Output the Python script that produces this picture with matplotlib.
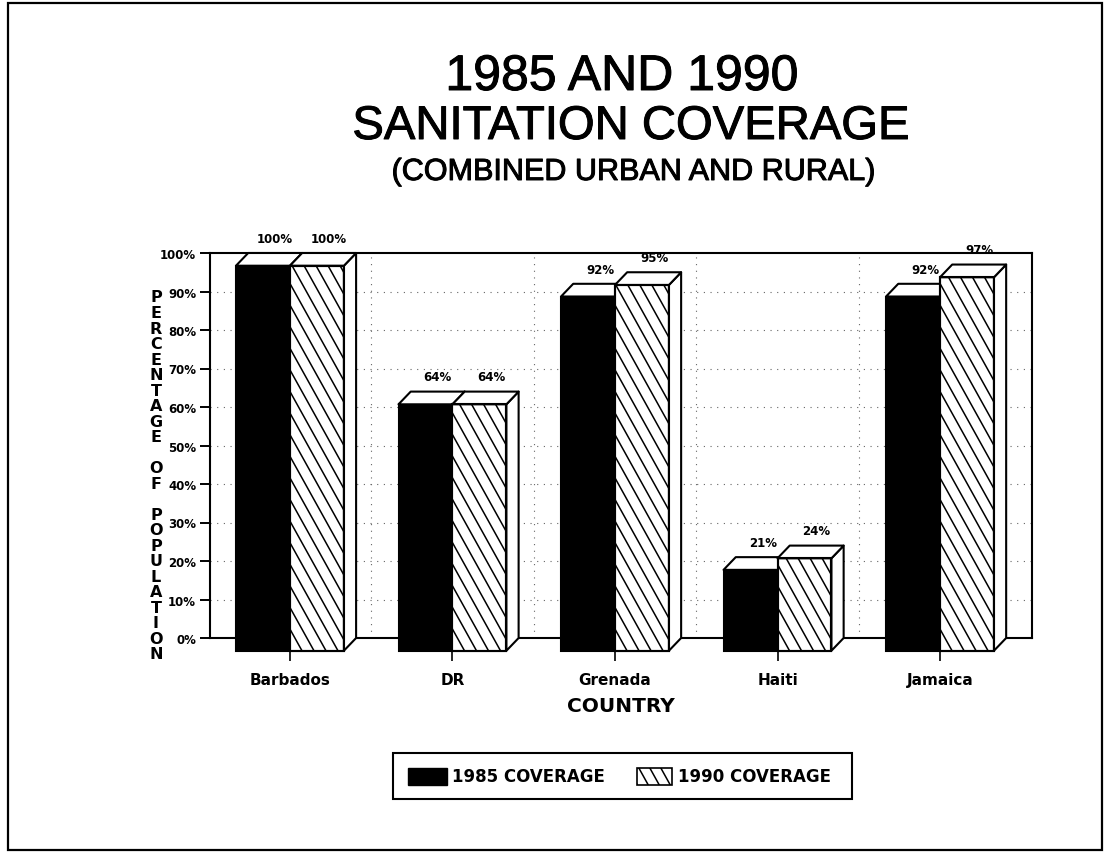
import matplotlib
matplotlib.use('Agg')
import matplotlib.pyplot as plt
from matplotlib.patches import Polygon, Rectangle
from matplotlib.lines import Line2D
from matplotlib.transforms import IdentityTransform
import matplotlib.patheffects as pe
import numpy as np

# ---- data ----
countries = ['Barbados', 'DR', 'Grenada', 'Haiti', 'Jamaica']
coverage_1985 = [100, 64, 92, 21, 92]
coverage_1990 = [100, 64, 95, 24, 97]
y_ticks = [0, 10, 20, 30, 40, 50, 60, 70, 80, 90, 100]
y_tick_labels = ['0%', '10%', '20%', '30%', '40%', '50%', '60%', '70%', '80%', '90%', '100%']
series_names = ['1985 COVERAGE', '1990 COVERAGE']
title_lines = ['1985 AND 1990', 'SANITATION COVERAGE', '(COMBINED URBAN AND RURAL)']
y_label = 'PERCENTAGE OF POPULATION'
x_label = 'COUNTRY'

W_PX, H_PX = 1106, 854
fig = plt.figure(figsize=(W_PX / 100, H_PX / 100), dpi=100)
fig.patch.set_facecolor('white')

def fx(x):
    return x / W_PX

def fy(y):
    return 1 - y / H_PX

BOLD = dict(family='DejaVu Sans', fontweight='bold', color='black')
LW = 1.5

# outer border
fig.add_artist(Rectangle((fx(8), fy(851)), fx(1102) - fx(8), fy(4) - fy(851),
                         transform=fig.transFigure, fill=False, lw=1.6, ec='black'))

# axes
left, right, top, bottom = 210, 1032, 254, 639
ax = fig.add_axes([fx(left), fy(bottom), fx(right) - fx(left), fy(top) - fy(bottom)])
ax.set_xlim(-0.492, 4.566)
ax.set_ylim(0, 100)
ax.set_axisbelow(True)
for s in ax.spines.values():
    s.set_linewidth(LW)
    s.set_color('black')

ax.set_yticks(y_ticks)
ax.set_yticklabels(y_tick_labels, fontsize=8.5, **BOLD)
ax.tick_params(axis='y', direction='out', length=7.5, width=1.4, pad=2.5)
xpos = np.arange(len(countries))
ax.set_xticks(xpos)
ax.set_xticklabels(countries, fontsize=11, **BOLD)
ax.tick_params(axis='x', direction='out', length=16.5, width=1.2, pad=8)

# dotted grid on back wall
for yv in y_ticks[1:-1]:
    ax.axhline(yv, color='0.4', lw=0.8, ls=(0, (1, 5)), zorder=0.6)
for xv in xpos[:-1] + 0.5:
    ax.axvline(xv, color='0.4', lw=0.8, ls=(0, (1, 5)), zorder=0.6)

BW = 0.332   # bar front width (data units)
DX = 0.075   # depth offset x
DY = 3.3     # depth offset y (percent)


def add_hatch(patch, zorder, container, spacing=12.0, slope=1.8, lw=1.1):
    verts = patch.get_verts()
    xmin, ymin = verts.min(axis=0)
    xmax, ymax = verts.max(axis=0)
    h = ymax - ymin
    span = h / slope
    xs = np.arange(xmin - span - spacing, xmax + spacing, spacing)
    for xs0 in xs:
        ln = Line2D([xs0, xs0 + span], [ymax, ymin], color='black', lw=lw,
                    transform=IdentityTransform(), zorder=zorder)
        ln.set_clip_path(patch.get_path(), patch.get_transform())
        container.add_artist(ln)


def draw_bar(x0, v, face, hatched, z):
    x1 = x0 + BW
    front = Rectangle((x0, -DY), BW, v, fc=face, ec='black', lw=LW,
                      zorder=z, clip_on=False)
    ax.add_patch(front)
    top_face = Polygon([(x0, v - DY), (x0 + DX, v), (x1 + DX, v), (x1, v - DY)],
                       closed=True, fc='white', ec='black', lw=LW, zorder=z,
                       clip_on=False, joinstyle='round')
    side = Polygon([(x1, -DY), (x1 + DX, 0), (x1 + DX, v), (x1, v - DY)],
                   closed=True, fc='white', ec='black', lw=LW, zorder=z,
                   clip_on=False, joinstyle='round')
    ax.add_patch(side)
    ax.add_patch(top_face)
    if hatched:
        add_hatch(front, z + 0.01, ax)
        ax.add_patch(Rectangle((x0, -DY), BW, v, fill=False, ec='black', lw=LW,
                               zorder=z + 0.02, clip_on=False))


def pct(v):
    return f'{v}%'

for i, c in enumerate(xpos):
    for j, (vals, face, hatched) in enumerate([(coverage_1985, 'black', False),
                                              (coverage_1990, 'white', True)]):
        v = vals[i]
        x0 = c - BW + j * BW
        z = 3 + i * 0.1 + j * 0.05
        draw_bar(x0, v, face, hatched, z)
        ax.text(x0 + BW / 2 + DX, v + 3.8, pct(v), ha='center', va='center',
                fontsize=8.5, zorder=6, clip_on=False, **BOLD)

# axis labels
fig.text(fx(621), fy(706), x_label, ha='center', va='center', fontsize=14.5, **BOLD)
chars = list(y_label)
y_first, y_last = 298, 655
step = (y_last - y_first) / (len(chars) - 1)
for k, ch in enumerate(chars):
    if ch.strip():
        fig.text(fx(156), fy(y_first + k * step), ch, ha='center', va='center',
                 fontsize=11.5, **BOLD)

# title
thick = [pe.withStroke(linewidth=0.7, foreground='black')]
fig.text(fx(622), fy(78), title_lines[0], ha='center', va='center',
         fontsize=36, family='Liberation Sans', color='black', path_effects=thick)
fig.text(fx(631), fy(128), title_lines[1], ha='center', va='center',
         fontsize=34, family='Liberation Sans', color='black', path_effects=thick)
fig.text(fx(633), fy(173), title_lines[2], ha='center', va='center',
         fontsize=22, family='Liberation Sans', color='black', path_effects=thick)

# legend (manual, framed)
fig.add_artist(Rectangle((fx(393), fy(800)), fx(852) - fx(393), fy(754) - fy(800),
                         transform=fig.transFigure, fill=False, ec='black', lw=1.5))
ly = 777
fig.add_artist(Rectangle((fx(408), fy(ly + 8.5)), fx(447) - fx(408), fy(ly - 8.5) - fy(ly + 8.5),
                         transform=fig.transFigure, fc='black', ec='black', lw=1))
fig.text(fx(452), fy(ly), series_names[0], ha='left', va='center', fontsize=12, **BOLD)
hp = Rectangle((fx(637), fy(ly + 8.5)), fx(672) - fx(637), fy(ly - 8.5) - fy(ly + 8.5),
               transform=fig.transFigure, fc='white', ec='black', lw=1.2)
fig.add_artist(hp)
add_hatch(hp, 5, fig, spacing=11.0)
fig.text(fx(678), fy(ly), series_names[1], ha='left', va='center', fontsize=12, **BOLD)

fig.savefig('out.png', dpi=100, facecolor='white')
